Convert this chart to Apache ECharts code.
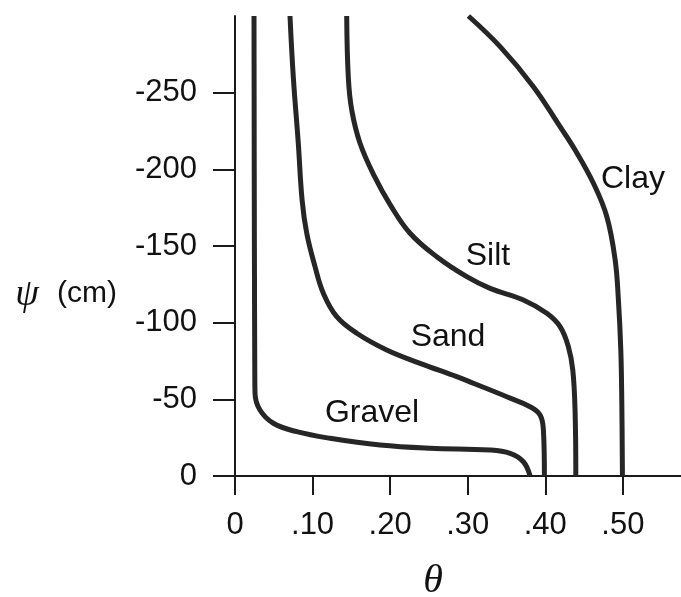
<!DOCTYPE html>
<html>
<head>
<meta charset="utf-8">
<script src="https://cdn.jsdelivr.net/npm/echarts@6/dist/echarts.min.js"></script>
<style>html,body{margin:0;padding:0;background:#fff}#c{width:681px;height:597px}</style>
</head>
<body>
<div id="c"></div>
<script>
// Data: [theta, psi (cm)]
const gravel = [[0.0245,-300],[0.025,-150],[0.0255,-70],[0.0258,-54],[0.0322,-43],[0.0494,-34.4],[0.0796,-28.9],[0.1225,-24.6],[0.187,-20.2],[0.2515,-18.1],[0.3289,-17],[0.3547,-14.8],[0.3718,-9.3],[0.3804,0]];
const sand = [[0.0709,-300],[0.0752,-260],[0.0816,-217],[0.0865,-180],[0.0925,-158.3],[0.1032,-136.5],[0.1139,-119.2],[0.1312,-103.9],[0.157,-93.1],[0.1956,-82.2],[0.2386,-73.5],[0.2859,-64.8],[0.3073,-60.5],[0.3504,-51.7],[0.3804,-45.2],[0.3933,-39.8],[0.3976,-30],[0.3989,0]];
const silt = [[0.144,-300],[0.1461,-260],[0.1505,-238.7],[0.1612,-217],[0.18,-195.2],[0.2,-177],[0.2257,-158.3],[0.2601,-143],[0.2988,-130],[0.3289,-122.4],[0.3718,-114.8],[0.402,-106.1],[0.4191,-97.4],[0.4298,-84.3],[0.4355,-69.1],[0.4385,-41.1],[0.4394,0]];
const clay = [[0.3009,-300],[0.3418,-280],[0.3847,-253.9],[0.4191,-227.8],[0.4385,-212.6],[0.4621,-190.9],[0.4794,-169.1],[0.4901,-140.9],[0.4943,-114.8],[0.4974,-82.2],[0.4987,-47.4],[0.4995,0]];
const xTicks = [0, 0.1, 0.2, 0.3, 0.4, 0.5];
const yTicks = [0, -50, -100, -150, -200, -250];
const seriesNames = ['Gravel', 'Sand', 'Silt', 'Clay'];

const chart = echarts.init(document.getElementById('c'), null, {renderer: 'canvas'});
const lineStyle = {color: '#262626', width: 5};
const sans = '"Liberation Sans", Arial, Helvetica, sans-serif';
const serif = '"Liberation Serif", "Times New Roman", serif';
function lbl(text, x, y) {
  return {type: 'text', x: x, y: y, style: {text: text, align: 'center', verticalAlign: 'middle', fontFamily: sans, fontSize: 32, fill: '#111'}};
}
chart.setOption({
  animation: false,
  backgroundColor: '#fff',
  grid: {left: 235, top: 16, width: 446, height: 460, containLabel: false},
  xAxis: {
    type: 'value', min: 0, max: 0.575,
    axisLine: {show: true, onZero: false, lineStyle: {color: '#1a1a1a', width: 2}},
    axisTick: {show: true, length: 19, lineStyle: {color: '#1a1a1a', width: 2}, customValues: xTicks},
    axisLabel: {customValues: xTicks, margin: 34, color: '#111', fontSize: 31, fontFamily: sans,
      formatter: v => v === 0 ? '0' : '.' + String(Math.round(v * 100))},
    splitLine: {show: false}
  },
  yAxis: {
    type: 'value', min: -300, max: 0, inverse: true,
    axisLine: {show: true, onZero: false, lineStyle: {color: '#1a1a1a', width: 2}},
    axisTick: {show: true, length: 22, lineStyle: {color: '#1a1a1a', width: 2}, customValues: yTicks},
    axisLabel: {customValues: yTicks, margin: 38, color: '#111', fontSize: 31, fontFamily: sans},
    splitLine: {show: false}
  },
  series: [gravel, sand, silt, clay].map((d, i) => ({
    name: seriesNames[i], type: 'line', data: d, showSymbol: false, symbol: 'none',
    smooth: 0.4, lineStyle: lineStyle, z: 3
  })),
  graphic: [
    lbl('Gravel', 372, 413),
    lbl('Sand', 448, 337),
    lbl('Silt', 488, 256),
    lbl('Clay', 633, 179),
    {type: 'text', x: 27, y: 295, style: {text: 'ψ', align: 'center', verticalAlign: 'middle',
      fontFamily: serif, fontStyle: 'italic', fontSize: 38, fill: '#111'}},
    {type: 'text', x: 87, y: 294, style: {text: '(cm)', align: 'center', verticalAlign: 'middle',
      fontFamily: sans, fontSize: 30, fill: '#111'}},
    {type: 'text', x: 433, y: 581, style: {text: 'θ', align: 'center', verticalAlign: 'middle',
      fontFamily: serif, fontStyle: 'italic', fontSize: 40, fill: '#111'}}
  ]
});
</script>
</body>
</html>
